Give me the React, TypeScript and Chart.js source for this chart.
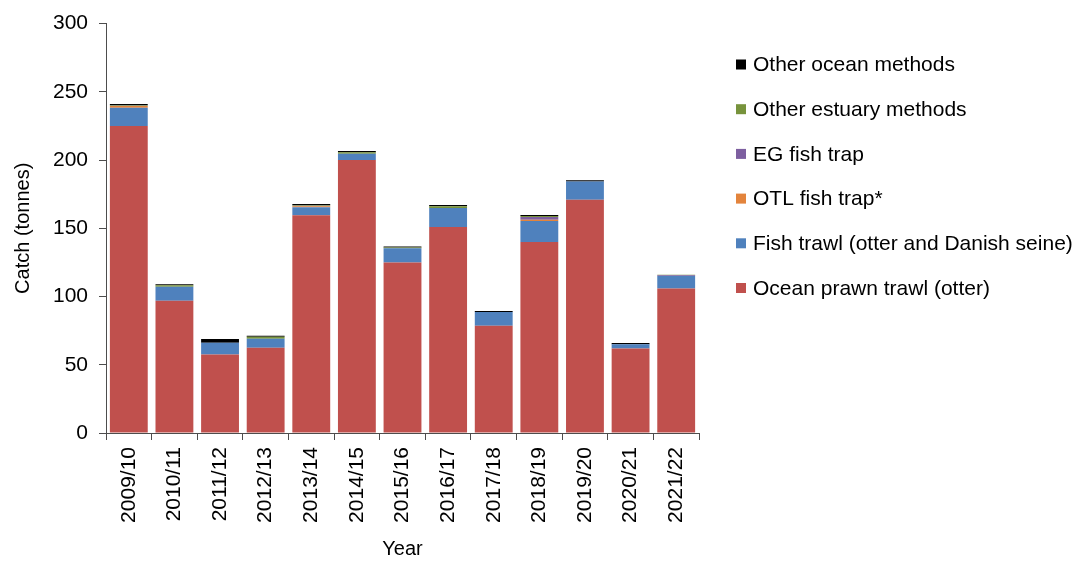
import React, { useEffect, useRef } from "react";
import { Chart, registerables } from "chart.js";

Chart.register(...registerables);

// Fishing years on the category axis
const years = [
  "2009/10", "2010/11", "2011/12", "2012/13", "2013/14", "2014/15", "2015/16",
  "2016/17", "2017/18", "2018/19", "2019/20", "2020/21", "2021/22",
];

// Catch by method, in tonnes (stacked bottom to top)
const oceanPrawnTrawl = [225, 97, 57.5, 62.5, 159.5, 200, 125, 151, 78.5, 140, 171, 62, 105.8];
const fishTrawl = [13.3, 10.2, 8.6, 6.5, 6, 4.7, 10.3, 13.8, 10.1, 15.3, 13.3, 3, 9.2];
const otlFishTrap = [1.3, 0, 0, 0, 0.7, 0, 0, 0, 0, 1, 0, 0, 0];
const egFishTrap = [0.2, 0, 0, 0, 0.3, 0, 0, 0, 0, 2, 0, 0, 0.6];
const otherEstuaryMethods = [0.5, 1.1, 0, 1.5, 0.5, 1.1, 0.7, 1.4, 0, 0.7, 0, 0, 0.4];
const otherOceanMethods = [0.8, 0.7, 2.7, 0.7, 0.8, 0.8, 0.7, 0.8, 0.8, 0.8, 0.9, 0.9, 0];

// Axis ticks
const yTicks = [0, 50, 100, 150, 200, 250, 300];

const FONT_FAMILY = '"Liberation Sans", Arial, sans-serif';
const AXIS_COLOR = "#4d4d4d";

// Legend drawn to the right of the plot, top item = top of the stack
const sideLegend = {
  id: "sideLegend",
  afterDraw(chart: any) {
    const { ctx, chartArea } = chart;
    const items = chart.data.datasets
      .map((d: any) => ({ label: d.label as string, color: d.backgroundColor as string }))
      .reverse();
    const x = chartArea.right + 37;
    const top = 64.5;
    const gap = 44.7;
    ctx.save();
    ctx.font = `21px ${FONT_FAMILY}`;
    ctx.textBaseline = "middle";
    ctx.textAlign = "left";
    items.forEach((it: any, i: number) => {
      const y = top + i * gap;
      ctx.fillStyle = it.color;
      ctx.fillRect(x, y - 5, 10, 10);
      ctx.fillStyle = "#000";
      ctx.fillText(it.label, x + 17, y + 1);
    });
    ctx.restore();
  },
};

export default function App() {
  const canvasRef = useRef<HTMLCanvasElement | null>(null);

  useEffect(() => {
    if (!canvasRef.current) return;
    const chart = new Chart(canvasRef.current, {
      type: "bar",
      data: {
        labels: years,
        datasets: [
          { label: "Ocean prawn trawl (otter)", data: oceanPrawnTrawl, backgroundColor: "#C0504D" },
          { label: "Fish trawl (otter and Danish seine)", data: fishTrawl, backgroundColor: "#4F81BD" },
          { label: "OTL fish trap*", data: otlFishTrap, backgroundColor: "#E3843C" },
          { label: "EG fish trap", data: egFishTrap, backgroundColor: "#7D5FA0" },
          { label: "Other estuary methods", data: otherEstuaryMethods, backgroundColor: "#77933C" },
          { label: "Other ocean methods", data: otherOceanMethods, backgroundColor: "#000000" },
        ].map((d) => ({ ...d, barPercentage: 0.83, categoryPercentage: 1, borderWidth: 0 })),
      },
      options: {
        responsive: false,
        animation: false,
        layout: { padding: { left: 0, right: 387, top: 20, bottom: 0 } },
        plugins: {
          legend: { display: false },
          tooltip: { enabled: false },
        },
        scales: {
          x: {
            stacked: true,
            offset: true,
            grid: {
              offset: true,
              drawOnChartArea: false,
              drawTicks: true,
              tickLength: 7,
              color: AXIS_COLOR,
            },
            border: { display: true, color: AXIS_COLOR, width: 1 },
            ticks: {
              minRotation: 90,
              maxRotation: 90,
              autoSkip: false,
              padding: 7,
              color: "#000",
              font: { family: FONT_FAMILY, size: 21 },
            },
            title: {
              display: true,
              text: "Year",
              color: "#000",
              font: { family: FONT_FAMILY, size: 20 },
              padding: { top: 0, bottom: 0 },
            },
            afterFit: (scale: any) => {
              scale.height = 128;
            },
          },
          y: {
            stacked: true,
            min: yTicks[0],
            max: yTicks[yTicks.length - 1],
            afterBuildTicks: (scale: any) => {
              scale.ticks = yTicks.map((v) => ({ value: v }));
            },
            grid: {
              drawOnChartArea: false,
              drawTicks: true,
              tickLength: 7,
              color: AXIS_COLOR,
            },
            border: { display: true, color: AXIS_COLOR, width: 1 },
            ticks: {
              padding: 11,
              color: "#000",
              font: { family: FONT_FAMILY, size: 21 },
            },
            title: {
              display: true,
              text: "Catch (tonnes)",
              color: "#000",
              font: { family: FONT_FAMILY, size: 20 },
              padding: { top: 11, bottom: 0 },
            },
            afterFit: (scale: any) => {
              scale.width = 106;
            },
          },
        },
      },
      plugins: [sideLegend],
    });
    return () => chart.destroy();
  }, []);

  return (
    <div style={{ position: "fixed", left: 0, top: 0, width: 1086, height: 561, background: "#fff" }}>
      <canvas ref={canvasRef} width={1086} height={561} />
    </div>
  );
}
